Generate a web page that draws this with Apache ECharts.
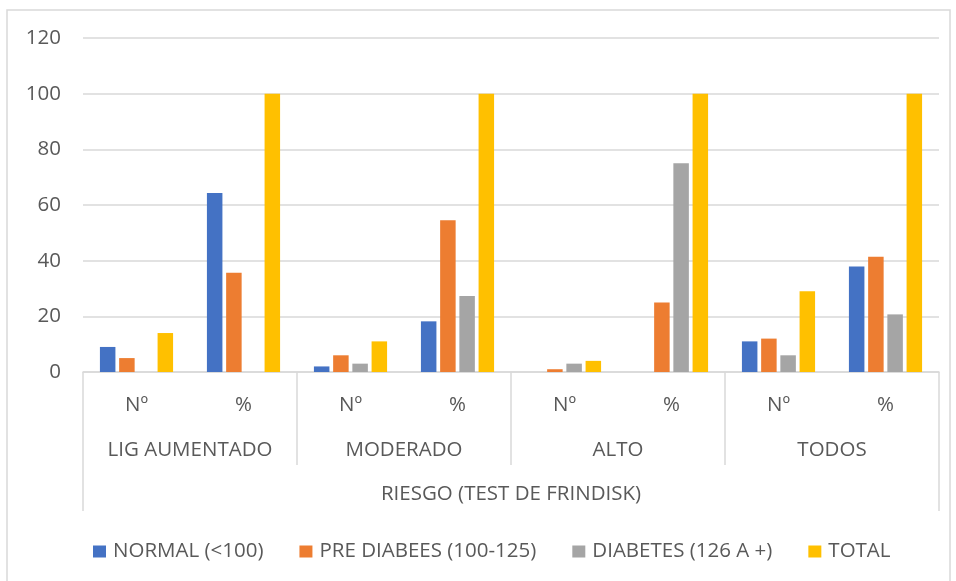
<!DOCTYPE html>
<html>
<head>
<meta charset="utf-8">
<script src="https://cdn.jsdelivr.net/npm/echarts@6/dist/echarts.min.js"></script>
<style>
  html, body { margin: 0; padding: 0; background: #fff; }
  #chart { width: 956px; height: 581px; }
</style>
</head>
<body>
<div id="chart"></div>
<script>
// Category labels (inner level, group level, outer level)
const categories = ['Nº', '%', 'Nº', '%', 'Nº', '%', 'Nº', '%'];
const groups = ['LIG AUMENTADO', 'MODERADO', 'ALTO', 'TODOS'];
const outerTitle = ['RIESGO (TEST DE FRINDISK)'];

// Series values per category
const seriesNames = ['NORMAL (<100)', 'PRE DIABEES (100-125)', 'DIABETES (126 A +)', 'TOTAL'];
const normal = [9, 64.3, 2, 18.2, 0, 0, 11, 37.9];
const preDiabetes = [5, 35.7, 6, 54.5, 1, 25, 12, 41.4];
const diabetes = [0, 0, 3, 27.3, 3, 75, 6, 20.7];
const total = [14, 100, 11, 100, 4, 100, 29, 100];

// Value axis ticks
const yMin = 0, yMax = 120, yStep = 20;

const colors = ['#4472C4', '#ED7D31', '#A5A5A5', '#FFC000'];
const textColor = '#595959';
const lineColor = '#D9D9D9';
const fontFamily = '"Open Sans", "Noto Sans", sans-serif';
const fontSize = 20.5;

const chart = echarts.init(document.getElementById('chart'), null, { renderer: 'canvas' });

const gridBox = { left: 83, right: 17, top: 38, bottom: 209 };

function barSeries(name, data, color) {
  return {
    name: name,
    type: 'bar',
    xAxisIndex: 0,
    yAxisIndex: 0,
    data: data,
    barWidth: 15.5,
    barGap: '24%',
    itemStyle: { color: color },
    emphasis: { disabled: true },
    animation: false
  };
}

function labelStyle(margin) {
  return {
    interval: 0,
    color: textColor,
    fontSize: fontSize,
    fontFamily: fontFamily,
    margin: margin,
    lineHeight: 22,
    hideOverlap: false
  };
}

chart.setOption({
  animation: false,
  color: colors,
  textStyle: { fontFamily: fontFamily },
  graphic: [{
    type: 'rect',
    shape: { x: 7, y: 10, width: 943, height: 590 },
    style: { fill: 'none', stroke: lineColor, lineWidth: 1.5 },
    silent: true,
    z: -10
  }],
  grid: Object.assign({ containLabel: false }, gridBox),
  legend: {
    data: seriesNames,
    left: 88,
    top: 536,
    itemWidth: 13,
    itemHeight: 12,
    itemGap: 36,
    icon: 'rect',
    selectedMode: false,
    textStyle: { color: textColor, fontSize: fontSize, fontFamily: fontFamily, padding: [0, 0, 0, 2] }
  },
  xAxis: [
    {
      type: 'category',
      data: categories,
      position: 'bottom',
      axisLine: { show: true, lineStyle: { color: lineColor, width: 1.5 } },
      axisTick: { show: false },
      axisLabel: labelStyle(22),
      splitLine: { show: false }
    },
    {
      type: 'category',
      data: groups,
      position: 'bottom',
      gridIndex: 0,
      axisLine: { show: false },
      axisTick: { show: true, interval: 0, length: 93, lineStyle: { color: lineColor, width: 1.5 } },
      axisLabel: labelStyle(67),
      splitLine: { show: false }
    },
    {
      type: 'category',
      data: outerTitle,
      position: 'bottom',
      gridIndex: 0,
      axisLine: { show: false },
      axisTick: { show: true, interval: 0, length: 139, lineStyle: { color: lineColor, width: 1.5 } },
      axisLabel: labelStyle(111),
      splitLine: { show: false }
    }
  ],
  yAxis: {
    type: 'value',
    min: yMin,
    max: yMax,
    interval: yStep,
    axisLine: { show: false },
    axisTick: { show: false },
    axisLabel: { color: textColor, fontSize: fontSize, fontFamily: fontFamily, margin: 22 },
    splitLine: { show: true, lineStyle: { color: lineColor, width: 1.5 } }
  },
  series: [
    barSeries(seriesNames[0], normal, colors[0]),
    barSeries(seriesNames[1], preDiabetes, colors[1]),
    barSeries(seriesNames[2], diabetes, colors[2]),
    barSeries(seriesNames[3], total, colors[3])
  ]
});
</script>
</body>
</html>
